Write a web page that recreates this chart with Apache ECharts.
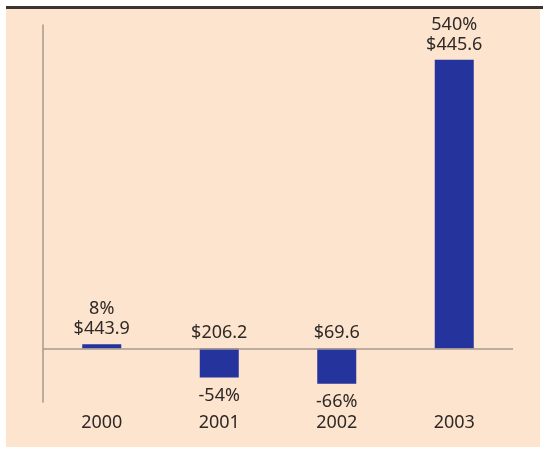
<!DOCTYPE html>
<html>
<head>
<meta charset="utf-8">
<script src="https://cdn.jsdelivr.net/npm/echarts@6/dist/echarts.min.js"></script>
<style>
  html, body { margin: 0; padding: 0; background: #ffffff; }
  #chart { width: 543px; height: 450px; }
</style>
</head>
<body>
<div id="chart"></div>
<script>
const years = ["2000", "2001", "2002", "2003"];
const pctChange = [8, -54, -66, 540];
const revenue = [443.9, 206.2, 69.6, 445.6];

const textColor = "#2f2926";
const barColor = "#25339d";
const axisColor = "#a59a8f";

let myChart = echarts.init(document.getElementById("chart"));
myChart.setOption({
  backgroundColor: "#ffffff",
  animation: false,
  textStyle: { fontFamily: "Noto Sans" },
  graphic: [
    {
      type: "rect",
      z: -10,
      shape: { x: 6, y: 8, width: 534, height: 439 },
      style: { fill: "#fde4cf" }
    },
    {
      type: "rect",
      z: -9,
      shape: { x: 6, y: 6, width: 537, height: 3 },
      style: { fill: "#3a3433" }
    }
  ],
  grid: { left: 43, right: 30, top: 25, bottom: 48 },
  xAxis: {
    type: "category",
    data: years,
    axisLine: { show: false, onZero: false },
    axisTick: { show: false },
    axisLabel: { color: textColor, fontSize: 18, margin: 12 }
  },
  yAxis: {
    type: "value",
    min: -100,
    max: 605,
    axisLine: { show: true, lineStyle: { color: axisColor, width: 1.5 } },
    axisTick: { show: false },
    axisLabel: { show: false },
    splitLine: { show: false }
  },
  series: [
    {
      type: "bar",
      barWidth: 39,
      data: pctChange.map((v, i) => ({
        value: v,
        label: v >= 0
          ? { position: "top", distance: 5, formatter: v + "%\n$" + revenue[i].toFixed(1) }
          : { position: "bottom", distance: 8, formatter: v + "%" }
      })),
      itemStyle: { color: barColor },
      label: { show: true, color: textColor, fontSize: 18, lineHeight: 20 },
      markLine: {
        silent: true,
        symbol: "none",
        label: { show: false },
        lineStyle: { color: axisColor, width: 1.5, type: "solid" },
        data: [{ yAxis: 0 }]
      }
    },
    {
      type: "scatter",
      symbolSize: 0,
      itemStyle: { opacity: 1 },
      data: pctChange.map((v, i) => (v < 0 ? { value: 0, revenue: revenue[i] } : "-")),
      label: {
        show: true,
        position: "top",
        distance: 6,
        color: textColor,
        fontSize: 18,
        lineHeight: 20,
        formatter: (p) => "$" + p.data.revenue.toFixed(1)
      }
    }
  ]
});
</script>
</body>
</html>
